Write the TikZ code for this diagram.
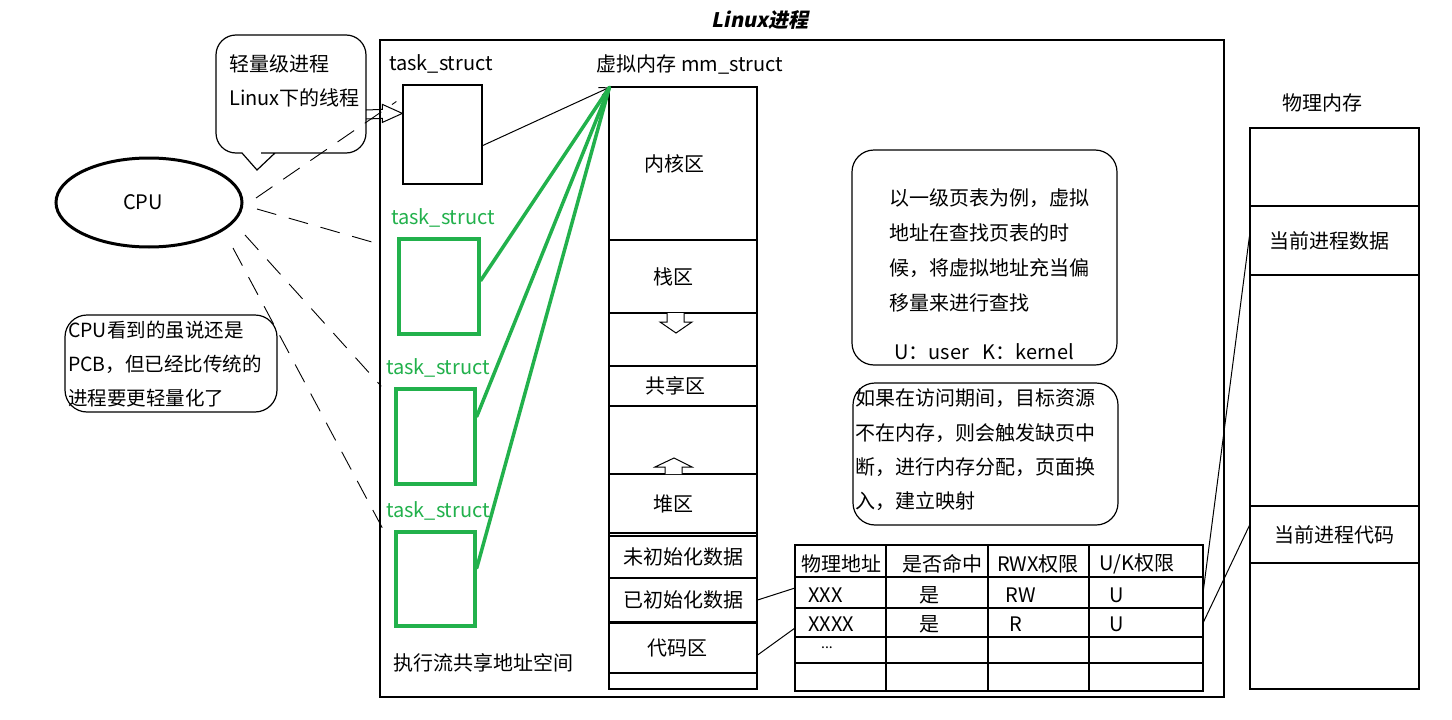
\documentclass[tikz,border=0pt]{standalone}
\usepackage{fontspec}
\setmainfont{Noto Sans CJK SC}
\newfontfamily\titlefont{Noto Sans CJK SC}[FakeSlant=0.2]
\usetikzlibrary{calc,arrows.meta,shapes.geometric}
\definecolor{pgreen}{RGB}{34,177,76}
\tikzset{
  txt/.style={inner sep=0pt, font=\fontsize{20}{24}\selectfont},
  box/.style={draw, line width=1.2pt, inner sep=0pt, font=\fontsize{20}{24}\selectfont},
  mmsec/.style={box, minimum width=148pt},
  gbox/.style={draw=pgreen, line width=3.5pt, inner sep=0pt},
  glink/.style={draw=pgreen, line width=3.5pt, line cap=round},
  cpulink/.style={draw, line width=0.9pt, dash pattern=on 20pt off 13pt},
  rbox/.style={draw, rounded corners=22pt, line width=1.2pt, inner sep=0pt},
  thin/.style={draw, line width=1pt}
}
\begin{document}
\begin{tikzpicture}[x=1pt,y=-1pt]
\useasboundingbox (0,0) rectangle (1452,720);
\fill[white] (0,0) rectangle (1452,720);

% title
\node[txt, font=\titlefont\bfseries\fontsize{20}{24}\selectfont] (title) at (760,20) {Linux进程};

% main frame
\node[box, minimum width=844pt, minimum height=657pt] (proc) at (802,368.5) {};

% labels
\node[txt] (tlabel) at (441,64) {task\_struct};
\node[txt] (mmlabel) at (690,64) {虚拟内存 mm\_struct};
\node[txt, text=pgreen] (g1label) at (443,218) {task\_struct};
\node[txt, text=pgreen] (g2label) at (438,368) {task\_struct};
\node[txt, text=pgreen] (g3label) at (438,511) {task\_struct};
\node[txt] (sharelabel) at (483,663) {执行流共享地址空间};

% task boxes
\node[box, minimum width=79pt, minimum height=99pt] (tbox) at (442.5,134.5) {};
\node[gbox, minimum width=80pt, minimum height=95pt] (G1) at (439,286.5) {};
\node[gbox, minimum width=79pt, minimum height=95pt] (G2) at (435.5,436.5) {};
\node[gbox, minimum width=79pt, minimum height=94pt] (G3) at (435.5,579) {};

% mm_struct column
\node[box, minimum width=148pt, minimum height=602pt] (mm) at (683,388) {};
\node[mmsec, minimum height=153pt] (kern) at (683,163.5) {内核区\hspace*{18pt}};
\node[mmsec, minimum height=73pt] (stack) at (683,276.5) {栈区\hspace*{20pt}};
\node[mmsec, minimum height=40pt] (shared) at (683,386) {共享区\hspace*{16pt}};
\node[mmsec, minimum height=59pt] (heap) at (683,503.5) {堆区\hspace*{20pt}};
\node[mmsec, minimum height=42pt] (bss) at (683,557) {未初始化数据};
\node[mmsec, minimum height=44pt] (data) at (683,600) {已初始化数据};
\node[mmsec, minimum height=50pt] (code) at (683,648) {代码区\hspace*{12pt}};
\coordinate (mmtop) at ($(mm.north west)+(1,1)$);

% growth arrows
\draw[thin, fill=white] (667,313) -- (667,322) -- (660,322) -- (676,333) -- (692,322) -- (684,322) -- (684,313);
\draw[thin, fill=white] (665,474) -- (665,467) -- (655,467) -- (674,458) -- (692,467) -- (682,467) -- (682,474);

% links to mm
\draw[thin, -{Straight Barb[length=9pt,width=9pt]}] ($(tbox.south east)+(0,-39)$) -- (mmtop);
\draw[glink] ($(G1.east)+(0,-6)$) -- (mmtop);
\draw[glink] ($(G2.east)+(0,-20)$) -- (mmtop);
\draw[glink] ($(G3.east)+(0,-11)$) -- (mmtop);

% bubble
\node[txt, align=left, anchor=west, font=\fontsize{20}{34}\selectfont] (bubtext) at (229,81) {轻量级进程\\Linux下的线程};
\draw[line width=1.2pt] (257,170) -- (242,153) -- (236,153) [rounded corners=20pt] -- (216,153) -- (216,35) -- (366,35) -- (366,153) -- (281,153) [sharp corners] -- (275,153) -- cycle;
\coordinate (htip) at ($(tbox.north west)+(0,29)$);
\draw[thin] (366,110) -- ($(htip)+(-20,-4)$) -- ($(htip)+(-20,-9)$) -- (htip) -- ($(htip)+(-20,9)$) -- ($(htip)+(-20,5)$) -- (366,119);

% CPU
\node[draw, ellipse, line width=3pt, minimum width=186pt, minimum height=89pt, font=\fontsize{20}{24}\selectfont] (cpu) at (149,202.5) {CPU\hspace*{12pt}};
\coordinate (c1) at (256,198);
\coordinate (c2) at (257,209);
\coordinate (c3) at (245,235);
\coordinate (c4) at (233,248);
\draw[cpulink] (c1) -- ($(tbox.west)+(-6,-33)$);
\draw[cpulink] (c2) -- ($(G1.north west)+(-14,8)$);
\draw[cpulink] (c3) -- ($(G2.north west)+(-13,-1)$);
\draw[cpulink] (c4) -- ($(G3.north west)+(-8,5)$);

% CPU note
\node[rbox, minimum width=212pt, minimum height=97pt] (cpunote) at (171,363.5) {};
\node[txt, align=left, anchor=west, font=\fontsize{19.5}{34}\selectfont] (cpunotetext) at (68,364) {CPU看到的虽说还是\\PCB，但已经比传统的\\进程要更轻量化了};

% note A
\node[rbox, minimum width=265pt, minimum height=215pt] (noteA) at (984.5,257.5) {};
\node[txt, align=left, anchor=west, font=\fontsize{20}{35}\selectfont] (noteAtext) at (889,250.5) {以一级页表为例，虚拟\\地址在查找页表的时\\候，将虚拟地址充当偏\\移量来进行查找};
\node[txt] (ukText) at (984,352) {U：user\ \ \ K：kernel};

% note B
\node[rbox, minimum width=265pt, minimum height=142pt] (noteB) at (985.5,454) {};
\node[txt, align=left, anchor=west, font=\fontsize{20}{34.3}\selectfont] (noteBtext) at (855,450) {如果在访问期间，目标资源\\不在内存，则会触发缺页中\\断，进行内存分配，页面换\\入，建立映射};

% page table
\node[box, minimum width=408pt, minimum height=146pt] (ptab) at (999,618) {};
\draw[line width=1.2pt] (795,577) -- (1203,577) (795,608) -- (1203,608) (795,637) -- (1203,637) (795,663) -- (1203,663);
\draw[line width=1.2pt] (886,545) -- (886,691) (988,545) -- (988,691) (1089,545) -- (1089,691);
\node[txt] (h1) at (841,564) {物理地址};
\node[txt] (h2) at (942,564) {是否命中};
\node[txt] (h3) at (1038,564) {RWX权限};
\node[txt] (h4) at (1137,564) {U/K权限};
\node[txt, anchor=west] (r1a) at (808,595) {XXX};
\node[txt] (r1b) at (929,595) {是};
\node[txt] (r1c) at (1021,595) {RW};
\node[txt] (r1d) at (1117,595) {U};
\node[txt, anchor=west] (r2a) at (808,624) {XXXX};
\node[txt] (r2b) at (929,624) {是};
\node[txt] (r2c) at (1016,624) {R};
\node[txt] (r2d) at (1117,624) {U};
\node[inner sep=0pt, font=\fontsize{14}{14}\selectfont] (r3a) at (827,648) {...};
\coordinate (row1w) at (795,588);
\coordinate (row2w) at (795,628);
\coordinate (row1e) at (1203,593);
\coordinate (row2e) at (1203,623);

% physical memory
\node[txt] (pmlabel) at (1322,103) {物理内存};
\node[box, minimum width=169pt, minimum height=561pt] (pm) at (1334.5,408.5) {};
\node[box, minimum width=169pt, minimum height=69pt] (pdata) at (1334.5,240.5) {当前进程数据\hspace*{10pt}};
\node[box, minimum width=169pt, minimum height=57pt] (pcode) at (1334.5,534.5) {当前进程代码};

% mapping lines
\draw[thin] (data.east) -- (row1w);
\draw[thin] ($(code.east)+(0,7)$) -- (row2w);
\draw[thin] (row1e) -- ($(pdata.west)+(0,-4)$);
\draw[thin] (row2e) -- ($(pcode.west)+(0,-9)$);
\end{tikzpicture}
\end{document}
